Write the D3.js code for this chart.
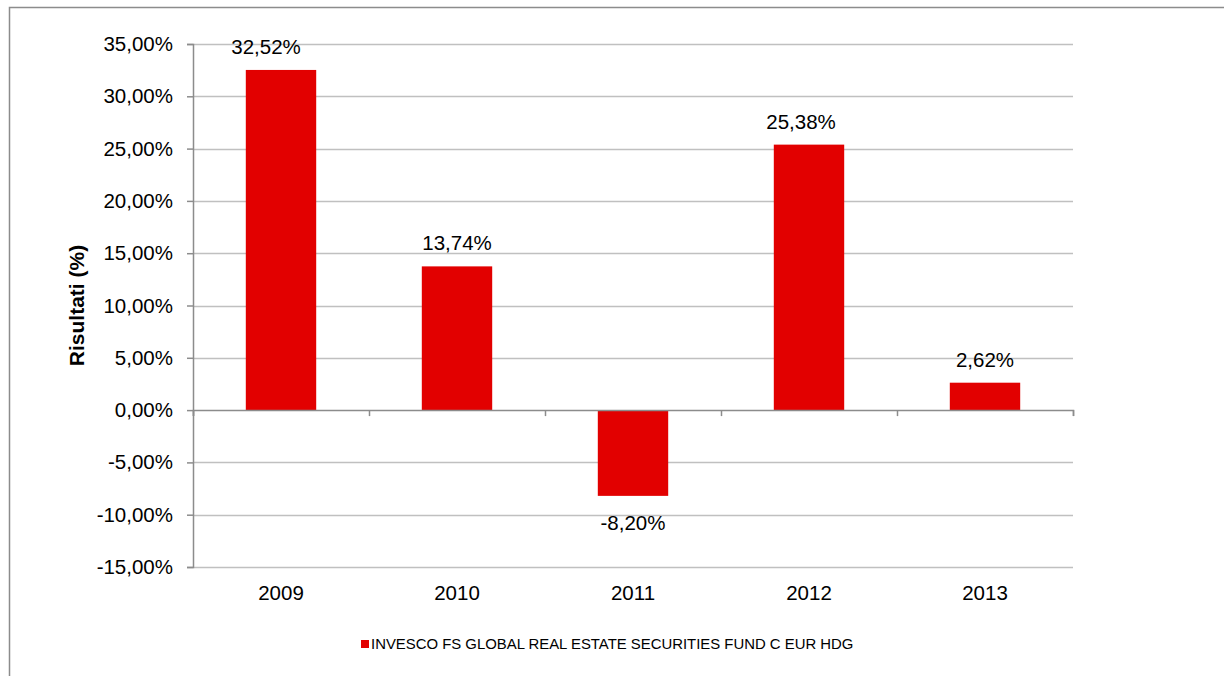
<!DOCTYPE html>
<html lang="it">
	<head>
		<meta charset="utf-8">
		<title>Risultati</title>
		<script type="text/javascript" src="https://d3js.org/d3.v7.min.js"></script>
		<style type="text/css">
			body { margin: 0; background: #fff; }
			svg text { font-family: "Liberation Sans", Arial, sans-serif; fill: #000; }
		</style>
	</head>
	<body>
		<script type="text/javascript">

			// data
			var years = ["2009", "2010", "2011", "2012", "2013"];
			var values = [32.52, 13.74, -8.20, 25.38, 2.62];
			var yTicks = [-15, -10, -5, 0, 5, 10, 15, 20, 25, 30, 35];
			var seriesName = "INVESCO FS GLOBAL REAL ESTATE SECURITIES FUND C EUR HDG";

			var w = 1224;
			var h = 676;
			var mLeft = 193, mTop = 44, plotW = 880, plotH = 523;

			var fmt = function(v) {
				return v.toFixed(2).replace(".", ",") + "%";
			};

			var svg = d3.select("body")
						.append("svg")
						.attr("width", w)
						.attr("height", h);

			// outer frame
			svg.append("rect")
			   .attr("x", 9.5).attr("y", 7.5)
			   .attr("width", w + 10).attr("height", h + 10)
			   .attr("fill", "none")
			   .attr("stroke", "#8c8c8c")
			   .attr("stroke-width", 1.5);

			var x = d3.scaleBand()
					  .domain(years)
					  .range([mLeft, mLeft + plotW])
					  .paddingInner(0.6)
					  .paddingOuter(0.3);

			var y = d3.scaleLinear()
					  .domain([-15, 35])
					  .range([mTop + plotH, mTop]);

			// gridlines
			svg.append("g")
			   .selectAll("line")
			   .data(yTicks.filter(function(d) { return d !== 0; }))
			   .enter()
			   .append("line")
			   .attr("x1", mLeft).attr("x2", mLeft + plotW)
			   .attr("y1", function(d) { return Math.round(y(d)) + 0.5; })
			   .attr("y2", function(d) { return Math.round(y(d)) + 0.5; })
			   .attr("stroke", "#c0c0c0")
			   .attr("stroke-width", 1.5);

			// bars
			svg.append("g")
			   .selectAll("rect")
			   .data(values)
			   .enter()
			   .append("rect")
			   .attr("x", function(d, i) { return x(years[i]); })
			   .attr("width", x.bandwidth())
			   .attr("y", function(d) { return y(Math.max(0, d)); })
			   .attr("height", function(d) { return Math.abs(y(d) - y(0)); })
			   .attr("fill", "#e20000");

			// y axis
			var yAxis = d3.axisLeft(y)
						  .tickValues(yTicks)
						  .tickSize(6)
						  .tickPadding(14)
						  .tickFormat(fmt);

			var gy = svg.append("g")
						.attr("transform", "translate(" + mLeft + ",0)")
						.call(yAxis);
			gy.select(".domain").attr("stroke", "#8c8c8c").attr("stroke-width", 1.5);
			gy.selectAll(".tick line").attr("stroke", "#8c8c8c").attr("stroke-width", 1.5);
			gy.selectAll(".tick text")
			  .style("font-size", "20.5px")
			  .attr("fill", "#000");

			// x axis on zero line, ticks at category boundaries
			var xb = d3.scaleLinear().domain([0, years.length]).range([mLeft, mLeft + plotW]);
			var gx = svg.append("g")
						.attr("transform", "translate(0," + y(0) + ")")
						.call(d3.axisBottom(xb).ticks(years.length).tickSize(6).tickSizeOuter(6).tickFormat(""));
			gx.select(".domain").attr("stroke", "#8c8c8c").attr("stroke-width", 1.5);
			gx.selectAll(".tick line").attr("stroke", "#8c8c8c").attr("stroke-width", 1.5);

			// category labels at bottom
			svg.append("g")
			   .selectAll("text")
			   .data(years)
			   .enter()
			   .append("text")
			   .attr("x", function(d) { return x(d) + x.bandwidth() / 2; })
			   .attr("y", mTop + plotH + 33)
			   .attr("text-anchor", "middle")
			   .style("font-size", "20.5px")
			   .text(function(d) { return d; });

			// value labels (the tallest ones sit a bit to the left, as in the source)
			var labelShift = { "2009": -15, "2012": -8 };
			svg.append("g")
			   .selectAll("text")
			   .data(values)
			   .enter()
			   .append("text")
			   .attr("x", function(d, i) { return x(years[i]) + x.bandwidth() / 2 + (labelShift[years[i]] || 0); })
			   .attr("y", function(d) { return d >= 0 ? y(d) - 16 : y(d) + 34; })
			   .attr("text-anchor", "middle")
			   .style("font-size", "20.5px")
			   .text(fmt);

			// y title
			svg.append("text")
			   .attr("transform", "translate(84," + (mTop + plotH / 2) + ") rotate(-90)")
			   .attr("text-anchor", "middle")
			   .style("font-size", "21px")
			   .style("font-weight", "bold")
			   .text("Risultati (%)");

			// legend
			svg.append("rect")
			   .attr("x", 361).attr("y", 640)
			   .attr("width", 8).attr("height", 8)
			   .attr("fill", "#e20000");
			svg.append("text")
			   .attr("x", 371).attr("y", 649)
			   .style("font-size", "14.9px")
			   .text(seriesName);

		</script>
	</body>
</html>
